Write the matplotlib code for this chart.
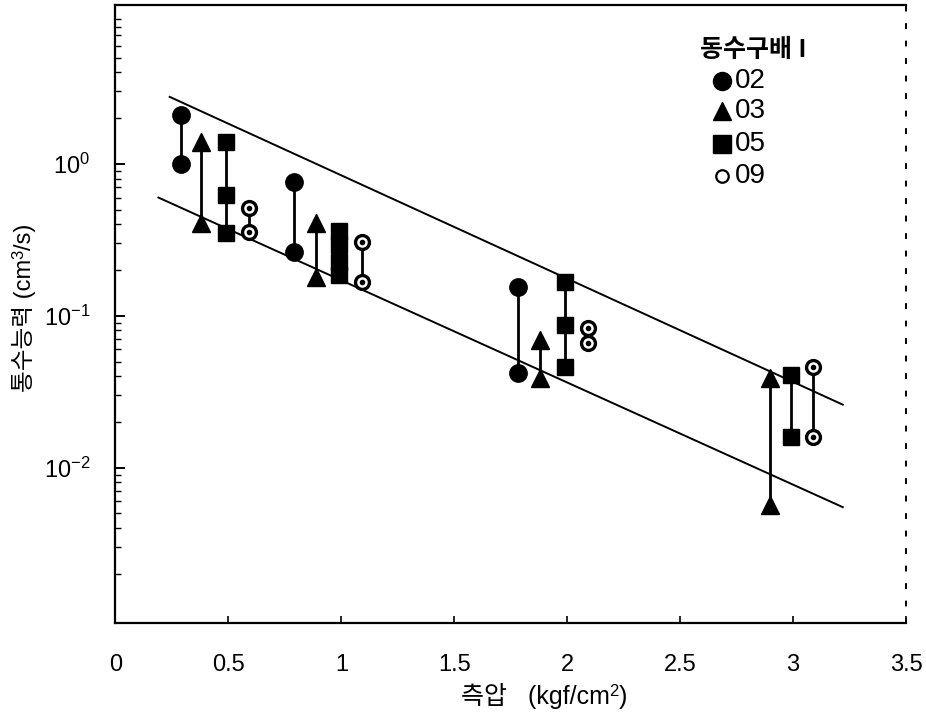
import matplotlib
matplotlib.use("Agg")
import matplotlib.pyplot as plt
from matplotlib import font_manager
from matplotlib.ticker import FixedLocator, LogLocator, NullFormatter

# ---- data ----------------------------------------------------------------
# side pressure (kgf/cm^2) and permeability (cm^3/s) for each hydraulic gradient
grad_labels = ["02", "03", "05", "09"]

x_g02 = [0.29, 0.79, 1.78]
y_g02 = [[2.10, 1.0], [0.76, 0.264], [0.155, 0.042]]

x_g03 = [0.38, 0.89, 1.88, 2.9]
y_g03 = [[1.40, 0.41], [0.41, 0.18], [0.0695, 0.039], [0.039, 0.0057]]

x_g05 = [0.49, 0.99, 1.99, 2.99]
y_g05 = [[1.40, 0.625, 0.352], [0.362, 0.293, 0.227, 0.186],
         [0.167, 0.0873, 0.0462], [0.0409, 0.016]]

x_g09 = [0.59, 1.09, 2.09, 3.09]
y_g09 = [[0.514, 0.357], [0.307, 0.168], [0.0833, 0.0665], [0.046, 0.016]]

# upper and lower bounding lines
upper_x = [0.24, 3.22]
upper_y = [2.76, 0.026]
lower_x = [0.19, 3.22]
lower_y = [0.60, 0.0055]

x_ticks = [0, 0.5, 1, 1.5, 2, 2.5, 3, 3.5]
x_tick_labels = ["0", "0.5", "1", "1.5", "2", "2.5", "3", "3.5"]
y_ticks = [1e-2, 1e-1, 1e0]
y_tick_labels = [r"$\mathregular{10^{-2}}$", r"$\mathregular{10^{-1}}$", r"$\mathregular{10^{0}}$"]

legend_title = "동수구배 I"
x_label_parts = [("측압   (kgf/cm", 18, 0), ("2", 12, 8), (")", 18, 0)]
y_label_parts = [("통수능력 (cm", 17, 0), ("3", 12, 8), ("/s)", 17, 0)]

# ---- fonts ---------------------------------------------------------------
available = {f.name for f in font_manager.fontManager.ttflist}
narrow = "Liberation Sans Narrow" if "Liberation Sans Narrow" in available else "Liberation Sans"
latin_kr = ["Liberation Sans", "Noto Sans CJK KR", "DejaVu Sans"]
plt.rcParams["font.family"] = latin_kr
plt.rcParams["mathtext.fontset"] = "custom"
plt.rcParams["mathtext.rm"] = "Liberation Sans"

# ---- figure --------------------------------------------------------------
W, H = 926, 718
fig = plt.figure(figsize=(W / 100, H / 100), dpi=100)
ax = fig.add_axes([0.1247, 0.1323, 0.8537, 0.8607])
ax.set_yscale("log")
ax.set_xlim(0, 3.5)
ax.set_ylim(0.00095, 11.1)

line_kw = dict(color="black", lw=2.0, zorder=2)


def draw_group(xs, ys, marker, ms, face, dot=False):
    for x, vals in zip(xs, ys):
        ax.plot([x] * len(vals), vals, **line_kw)
        ax.plot([x] * len(vals), vals, linestyle="none", marker=marker,
                ms=ms, mfc=face, mec="black", mew=2.4 if face == "white" else 1.0,
                zorder=3)
        if dot:
            ax.plot([x] * len(vals), vals, linestyle="none", marker="o",
                    ms=3, mfc="black", mec="black", zorder=4)


draw_group(x_g02, y_g02, "o", 12.5, "black")
draw_group(x_g03, y_g03, "^", 12.5, "black")
draw_group(x_g05, y_g05, "s", 11.5, "black")
draw_group(x_g09, y_g09, "o", 10, "white", dot=True)

ax.plot(upper_x, upper_y, color="black", lw=1.4, zorder=1)
ax.plot(lower_x, lower_y, color="black", lw=1.4, zorder=1)

# ---- axes styling --------------------------------------------------------
for side in ("left", "bottom", "top"):
    ax.spines[side].set_linewidth(1.6)
ax.spines["right"].set_linewidth(1.4)
ax.spines["right"].set_linestyle((0, (2, 7)))

ax.xaxis.set_major_locator(FixedLocator(x_ticks))
ax.set_xticklabels(x_tick_labels, fontsize=17, family=narrow)
ax.yaxis.set_major_locator(FixedLocator(y_ticks))
ax.set_yticklabels(y_tick_labels, fontsize=17)
ax.yaxis.set_minor_locator(LogLocator(base=10, subs=range(2, 10)))
ax.yaxis.set_minor_formatter(NullFormatter())

ax.tick_params(axis="x", which="major", direction="in", length=5, width=1.2, pad=22)
ax.tick_params(axis="y", which="major", direction="in", length=7, width=1.4, pad=18)
ax.tick_params(axis="y", which="minor", direction="in", length=4, width=1.0)
ax.tick_params(top=False, right=False)

# ---- axis titles with a raised exponent ----------------------------------
renderer = fig.canvas.get_renderer()


def rich_label(parts, anchor_px, vertical):
    """Lay out text pieces one after another, centred on anchor_px (pixels
    from the lower-left corner); pieces with a rise are lifted as exponents."""
    texts, sizes = [], []
    for s, size, rise in parts:
        t = fig.text(0, 0, s, fontsize=size, rotation=90 if vertical else 0,
                     rotation_mode="anchor", ha="left", va="baseline")
        ext = t.get_window_extent(renderer)
        texts.append(t)
        sizes.append(ext.height if vertical else ext.width)
    total = sum(sizes)
    cx, cy = anchor_px
    pos = (cy if vertical else cx) - total / 2
    for t, adv, (s, size, rise) in zip(texts, sizes, parts):
        if vertical:
            t.set_position(((cx - rise) / W, pos / H))
        else:
            t.set_position((pos / W, (cy + rise) / H))
        pos += adv


rich_label(x_label_parts, (544, 14), vertical=False)
rich_label(y_label_parts, (31, 410), vertical=True)

# ---- legend --------------------------------------------------------------
ax.text(0.739, 0.927, legend_title, transform=ax.transAxes, fontsize=18,
        fontweight="bold", va="center", ha="left")
leg_y = [0.877, 0.828, 0.775, 0.723]
leg_markers = [("o", 13, "black", 1.0), ("^", 13, "black", 1.0),
               ("s", 13, "black", 1.0), ("o", 9, "white", 1.6)]
for yy, lab, (mk, ms, fc, mew) in zip(leg_y, grad_labels, leg_markers):
    ax.plot([0.767], [yy], transform=ax.transAxes, marker=mk, ms=ms, mfc=fc,
            mec="black", mew=mew, linestyle="none", clip_on=False)
    ax.text(0.783, yy, lab, transform=ax.transAxes, fontsize=20,
            va="center", ha="left")

fig.savefig("out.png", dpi=100)
